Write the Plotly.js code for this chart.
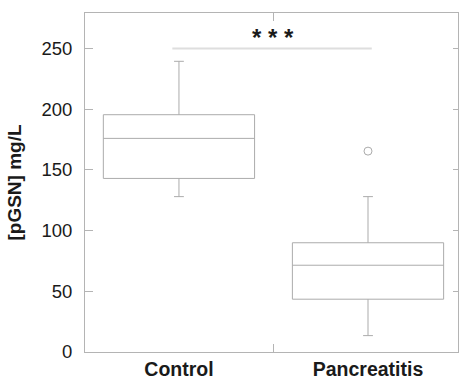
<!DOCTYPE html>
<html>
<head>
<meta charset="utf-8">
<script src="https://cdn.plot.ly/plotly-3.0.1.min.js"></script>
<style>html,body{margin:0;padding:0;background:#fff;}#chart{width:459px;height:379px;}</style>
</head>
<body>
<div id="chart"></div>
<script>
const categories = ["Control", "Pancreatitis"];
const lowerWhisker = [128, 13.5];
const q1Values = [143, 43.5];
const medianValues = [176, 71.5];
const q3Values = [195.5, 90];
const upperWhisker = [239.5, 128];
const outlierCategory = ["Pancreatitis"];
const outlierValues = [165.5];
const yTickVals = [0, 50, 100, 150, 200, 250];
const sigLevel = 250;
const sigLabel = "* * *";

const gray = "#ababab";
const frame = "#b4b4b4";

const data = [
  {
    type: "box",
    x: categories,
    q1: q1Values,
    median: medianValues,
    q3: q3Values,
    lowerfence: lowerWhisker,
    upperfence: upperWhisker,
    width: 0.8,
    whiskerwidth: 0.065,
    fillcolor: "rgba(255,255,255,0)",
    line: {color: gray, width: 1},
    boxpoints: false,
    hoverinfo: "skip",
    showlegend: false
  },
  {
    type: "scatter",
    mode: "markers",
    x: outlierCategory,
    y: outlierValues,
    marker: {symbol: "circle-open", size: 8, color: gray, line: {width: 1, color: gray}},
    showlegend: false,
    hoverinfo: "skip"
  },
  {
    type: "scatter",
    mode: "markers",
    x: outlierCategory,
    y: outlierValues,
    yaxis: "y2",
    marker: {opacity: 0},
    showlegend: false,
    hoverinfo: "skip"
  }
];

const layout = {
  width: 459,
  height: 379,
  margin: {l: 85, r: 1, t: 13, b: 27},
  paper_bgcolor: "#fff",
  plot_bgcolor: "#fff",
  font: {family: "Liberation Sans, Arial, sans-serif", color: "#1a1a1a"},
  showlegend: false,
  xaxis: {
    type: "category",
    range: [-0.497, 1.476],
    tickson: "boundaries",
    ticks: "inside",
    ticklen: 8,
    tickcolor: frame,
    tickwidth: 1,
    showline: true,
    linecolor: frame,
    linewidth: 1,
    mirror: "ticks",
    showgrid: false,
    zeroline: false,
    tickfont: {size: 19.5, family: "Liberation Sans, Arial, sans-serif", weight: "bold", color: "#1a1a1a"},
    ticklabelstandoff: 0
  },
  yaxis: {
    range: [0, 279.3],
    tickvals: yTickVals,
    ticktext: yTickVals.map(String),
    ticks: "inside",
    ticklen: 8,
    tickcolor: frame,
    tickwidth: 1,
    showline: true,
    linecolor: frame,
    linewidth: 1,
    mirror: true,
    showgrid: false,
    zeroline: false,
    tickfont: {size: 18.5, color: "#1a1a1a"},
    ticklabelstandoff: 8,
    title: {text: "[pGSN] mg/L", font: {size: 19, weight: "bold", color: "#1a1a1a"}, standoff: 14}
  },
  yaxis2: {
    overlaying: "y",
    matches: "y",
    side: "right",
    tickvals: yTickVals,
    ticks: "inside",
    ticklen: 5,
    tickcolor: frame,
    showticklabels: false,
    showgrid: false,
    zeroline: false,
    showline: false
  },
  shapes: [
    {type: "line", xref: "x", yref: "y", x0: -0.035, x1: 1.02, y0: sigLevel, y1: sigLevel,
     line: {color: "#dedede", width: 2}}
  ],
  annotations: [
    {xref: "x", yref: "y", x: 0.5, y: sigLevel, yshift: 11, text: sigLabel, showarrow: false,
     font: {size: 24, family: "Liberation Sans, Arial, sans-serif", color: "#1a1a1a", weight: "bold"}, yanchor: "middle"}
  ]
};

Plotly.newPlot("chart", data, layout, {displayModeBar: false, staticPlot: true});
</script>
</body>
</html>
